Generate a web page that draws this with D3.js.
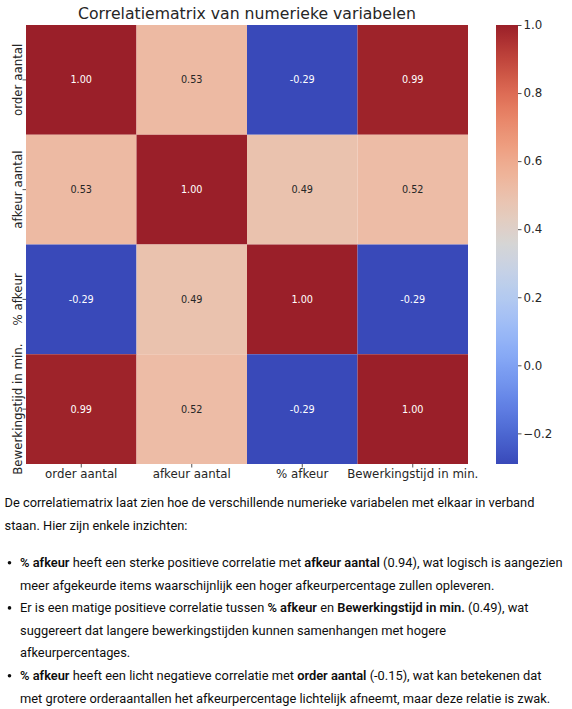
<!DOCTYPE html>
<html>
<head>
<meta charset="utf-8">
<title>Correlatiematrix van numerieke variabelen</title>
<script src="https://d3js.org/d3.v7.min.js"></script>
<style>
body { margin: 0; background: #fff; }
svg text { font-family: "DejaVu Sans", sans-serif; }
.note { font-family: Roboto, "Noto Sans", sans-serif; fill: #0d0d0d; white-space: pre; }
</style>
</head>
<body>
<script>

// the data
var variables = ["order aantal", "afkeur aantal", "% afkeur", "Bewerkingstijd in min."];
var corr = [
  [ 1.00, 0.53, -0.29,  0.99],
  [ 0.53, 1.00,  0.49,  0.52],
  [-0.29, 0.49,  1.00, -0.29],
  [ 0.99, 0.52, -0.29,  1.00]
];
var colorDomain = [-0.29, 1.0];
var colorTicks = [-0.2, 0.0, 0.2, 0.4, 0.6, 0.8, 1.0];
var title = "Correlatiematrix van numerieke variabelen";

// text under the chart, one array entry per line, [text, bold]
var introLines = [
  [["De correlatiematrix laat zien hoe de verschillende numerieke variabelen met elkaar in verband", false]],
  [["staan. Hier zijn enkele inzichten:", false]]
];
var bullets = [
  [
    [["% afkeur", true], [" heeft een sterke positieve correlatie met ", false], ["afkeur aantal", true], [" (0.94), wat logisch is aangezien", false]],
    [["meer afgekeurde items waarschijnlijk een hoger afkeurpercentage zullen opleveren.", false]]
  ],
  [
    [["Er is een matige positieve correlatie tussen ", false], ["% afkeur", true], [" en ", false], ["Bewerkingstijd in min.", true], [" (0.49), wat", false]],
    [["suggereert dat langere bewerkingstijden kunnen samenhangen met hogere", false]],
    [["afkeurpercentages.", false]]
  ],
  [
    [["% afkeur", true], [" heeft een licht negatieve correlatie met ", false], ["order aantal", true], [" (-0.15), wat kan betekenen dat", false]],
    [["met grotere orderaantallen het afkeurpercentage lichtelijk afneemt, maar deze relatie is zwak.", false]]
  ]
];

// coolwarm colormap (slightly darker, like the screenshot)
var cwStops = [
  [59,76,192],[68,90,204],[77,104,215],[87,117,225],[98,130,234],[108,142,241],
  [119,154,247],[130,165,251],[141,176,254],[152,185,255],[163,194,255],[174,201,253],
  [184,208,249],[194,213,244],[204,217,238],[213,219,230],[221,221,221],[229,216,209],
  [236,211,197],[241,204,185],[245,196,173],[247,187,160],[247,177,148],[247,166,135],
  [244,154,123],[241,141,111],[236,127,99],[229,112,88],[218,96,77],[205,80,67],
  [192,64,58],[176,48,50],[160,32,42]
];
var cmap = d3.scaleLinear()
    .domain(cwStops.map(function(d, i) { return i / (cwStops.length - 1); }))
    .range(cwStops.map(function(c) {
      return d3.rgb(c[0] * 0.965, c[1] * 0.965, c[2] * 0.965);
    }))
    .interpolate(d3.interpolateRgb)
    .clamp(true);

var W = 572, H = 709;
var plot = {left: 26, right: 468, top: 25, bottom: 464};
var bar = {left: 496, right: 518};

var svg = d3.select("body").append("svg")
    .attr("width", W)
    .attr("height", H);

svg.append("rect").attr("width", W).attr("height", H).attr("fill", "#fff");

var x = d3.scaleBand().domain(variables).range([plot.left, plot.right]);
var y = d3.scaleBand().domain(variables).range([plot.top, plot.bottom]);
var v = d3.scaleLinear().domain(colorDomain).range([0, 1]);
var cy = d3.scaleLinear().domain(colorDomain).range([plot.bottom, plot.top]);

function cellColor(val) { return cmap(v(val)); }
function textColor(val) {
  var c = d3.rgb(cellColor(val));
  var lum = 0.2126 * c.r / 255 + 0.7152 * c.g / 255 + 0.0722 * c.b / 255;
  return lum < 0.408 ? "#ffffff" : "#262626";
}

var cells = [];
corr.forEach(function(row, i) {
  row.forEach(function(val, j) {
    cells.push({row: variables[i], col: variables[j], value: val});
  });
});

// cells
svg.append("g").selectAll("rect")
    .data(cells)
    .enter().append("rect")
    .attr("x", function(d) { return x(d.col); })
    .attr("y", function(d) { return y(d.row); })
    .attr("width", x.bandwidth())
    .attr("height", y.bandwidth())
    .attr("fill", function(d) { return cellColor(d.value); });

// annotations
svg.append("g").selectAll("text")
    .data(cells)
    .enter().append("text")
    .attr("x", function(d) { return x(d.col) + x.bandwidth() / 2; })
    .attr("y", function(d) { return y(d.row) + y.bandwidth() / 2; })
    .attr("dy", "0.36em")
    .attr("text-anchor", "middle")
    .attr("font-size", 9.7)
    .attr("fill", function(d) { return textColor(d.value); })
    .text(function(d) { return d3.format(".2f")(d.value).replace("−", "-"); });

// x axis
var xAxis = svg.append("g")
    .attr("transform", "translate(0," + plot.bottom + ")")
    .call(d3.axisBottom(x).tickSize(3.5).tickPadding(2.5));
xAxis.select(".domain").remove();
xAxis.attr("font-family", null).attr("font-size", 11.8);
xAxis.selectAll("line").attr("stroke", "#262626").attr("stroke-width", 0.8);
xAxis.selectAll("text").attr("fill", "#262626");

// y axis, labels turned
var yAxis = svg.append("g")
    .attr("transform", "translate(" + plot.left + ",0)")
    .call(d3.axisLeft(y).tickSize(3.5));
yAxis.select(".domain").remove();
yAxis.attr("font-family", null).attr("font-size", 11.8);
yAxis.selectAll("line").attr("stroke", "#262626").attr("stroke-width", 0.8);
yAxis.selectAll("text")
    .attr("fill", "#262626")
    .attr("text-anchor", "middle")
    .attr("transform", "rotate(-90)")
    .attr("x", 0)
    .attr("y", -4.5)
    .attr("dy", 0);

// title
svg.append("text")
    .attr("x", (plot.left + plot.right) / 2)
    .attr("y", 19)
    .attr("text-anchor", "middle")
    .attr("font-size", 15.7)
    .attr("fill", "#262626")
    .text(title);

// colorbar
var grad = svg.append("defs").append("linearGradient")
    .attr("id", "cbar")
    .attr("x1", 0).attr("y1", 1).attr("x2", 0).attr("y2", 0);
d3.range(0, 1.0001, 1 / 64).forEach(function(t) {
  grad.append("stop").attr("offset", t).attr("stop-color", cmap(t));
});
svg.append("rect")
    .attr("x", bar.left)
    .attr("y", plot.top)
    .attr("width", bar.right - bar.left)
    .attr("height", plot.bottom - plot.top)
    .attr("fill", "url(#cbar)");

var cAxis = svg.append("g")
    .attr("transform", "translate(" + bar.right + ",0)")
    .call(d3.axisRight(cy).tickValues(colorTicks).tickFormat(d3.format(".1f")).tickSize(3.5).tickPadding(2));
cAxis.select(".domain").remove();
cAxis.attr("font-family", null).attr("font-size", 11.8);
cAxis.selectAll("line").attr("stroke", "#262626").attr("stroke-width", 0.8);
cAxis.selectAll("text").attr("fill", "#262626");

// text below the chart
var fs = 12.85;
function writeLine(g, parts, xPos, yPos) {
  var t = g.append("text")
      .attr("class", "note")
      .attr("x", xPos)
      .attr("y", yPos)
      .attr("font-size", fs);
  parts.forEach(function(p) {
    t.append("tspan")
        .attr("font-weight", p[1] ? 600 : 400)
        .text(p[0]);
  });
}

var notes = svg.append("g");
var lineY = 507, step = 22.6;
introLines.forEach(function(parts) {
  writeLine(notes, parts, 4.5, lineY);
  lineY += step;
});
lineY = 567;
bullets.forEach(function(lines) {
  notes.append("circle")
      .attr("cx", 9.5)
      .attr("cy", lineY - 4.3)
      .attr("r", 1.8)
      .attr("fill", "#0d0d0d");
  lines.forEach(function(parts) {
    writeLine(notes, parts, 20, lineY);
    lineY += step;
  });
});

</script>
</body>
</html>
